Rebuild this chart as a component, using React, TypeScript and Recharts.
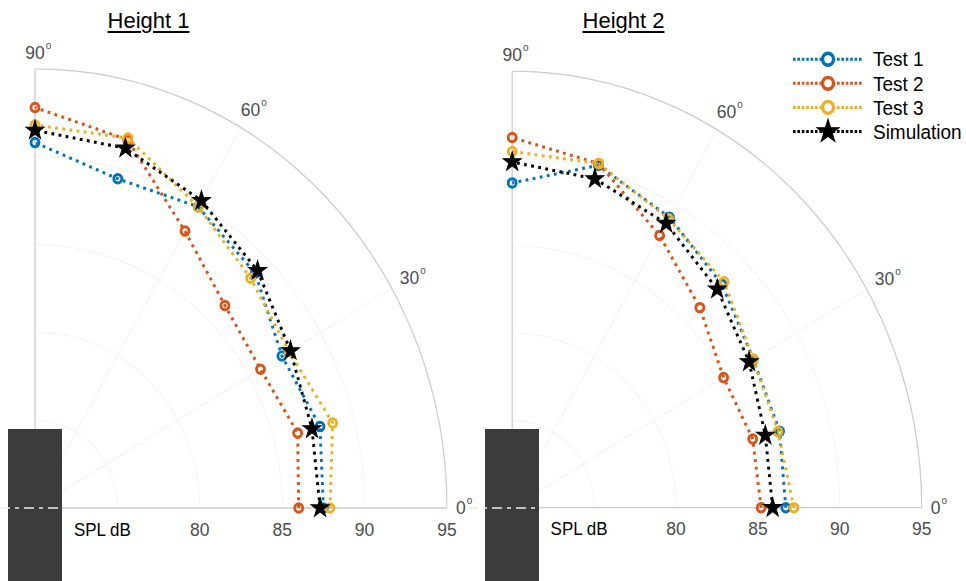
import {
  Legend,
  PolarAngleAxis,
  PolarGrid,
  PolarRadiusAxis,
  Radar,
  RadarChart,
  Symbols,
} from "recharts";

// measurement angles (deg) and SPL readings (dB)
const angles = [0, 15, 30, 45, 60, 75, 90];

const h1Test1 = [87.5, 87.9, 87.3, 88.9, 89.8, 89.4, 90.8];
const h1Test2 = [86.0, 86.5, 85.8, 86.3, 88.2, 91.7, 92.8];
const h1Test3 = [87.9, 88.7, 87.8, 88.5, 89.8, 91.8, 91.8];
const h1Sim = [87.3, 87.4, 87.9, 89.1, 90.2, 91.2, 91.5];

const h2Test1 = [86.7, 86.9, 87.0, 88.1, 89.2, 90.3, 88.6];
const h2Test2 = [85.2, 85.2, 84.9, 86.2, 88.0, 90.4, 91.2];
const h2Test3 = [87.2, 86.8, 87.0, 88.3, 89.1, 90.4, 90.4];
const h2Sim = [85.9, 86.0, 86.7, 87.7, 88.8, 89.5, 89.8];

const radiusTicks = [75, 80, 85, 90, 95];
const angleTicks = [0, 30, 60, 90];

const series = [
  { key: "test1", name: "Test 1", color: "#0072BD", marker: "ring" },
  { key: "test2", name: "Test 2", color: "#D95319", marker: "ring" },
  { key: "test3", name: "Test 3", color: "#EDB120", marker: "ring" },
  { key: "sim", name: "Simulation", color: "#000000", marker: "star" },
];

function buildRows(t1: number[], t2: number[], t3: number[], sim: number[]) {
  return angles.map((angle, i) => ({ angle, test1: t1[i], test2: t2[i], test3: t3[i], sim: sim[i] }));
}

const rows1 = buildRows(h1Test1, h1Test2, h1Test3, h1Sim);
const rows2 = buildRows(h2Test1, h2Test2, h2Test3, h2Sim);

const FONT = "'Liberation Sans', Arial, Helvetica, sans-serif";
const GREY = "#4d4d4d";
const AXIS = "#cccccc";
const TICK_FS = 17.5;
const STRETCH = 1.066;
const DASH = "2.8 4.4";

// open dotted polyline through the radar points (no closing segment)
const openLine = (color: string) => (props: any) => {
  const pts: any[] = props.points ?? [];
  const d = pts.map((p, i) => `${i ? "L" : "M"}${p.x},${p.y}`).join(" ");
  return <path d={d} fill="none" stroke={color} strokeWidth={2.9} strokeDasharray={DASH} />;
};

const ringDot = (color: string) => (p: any) => (
  <circle key={`r-${p.index}`} cx={p.cx} cy={p.cy} r={4} fill="none" stroke={color} strokeWidth={2.8} />
);

const starDot = (p: any) => (
  <Symbols key={`s-${p.index}`} cx={p.cx} cy={p.cy} type="star" size={100} fill="#000" stroke="#000" />
);

function AngleTick(props: any) {
  const { x, y, payload } = props;
  const a = (payload.value * Math.PI) / 180;
  const label = String(payload.value);
  const halfW = (label.length * 0.556 * TICK_FS) / 2;
  const extra = 1 + halfW * Math.abs(Math.cos(a)) + 6 * Math.abs(Math.sin(a));
  const tx = x + extra * Math.cos(a);
  const ty = y - extra * Math.sin(a);
  return (
    <g>
      <text x={tx} y={ty} textAnchor="middle" dominantBaseline="central" fontSize={TICK_FS} fill={GREY}>
        {label}
      </text>
      <text x={tx + halfW + 1} y={ty - 7} dominantBaseline="central" fontSize={10} fill={GREY}>
        o
      </text>
    </g>
  );
}

function RadiusTick(props: any) {
  const { x, y, payload } = props;
  if (payload.value === 75) {
    return (
      <text x={x - 15} y={y + 26} textAnchor="middle" fontSize={17} fill="#000">
        SPL dB
      </text>
    );
  }
  return (
    <text x={x} y={y + 26} textAnchor="middle" fontSize={TICK_FS} fill={GREY}>
      {payload.value}
    </text>
  );
}

function LegendContent(props: any) {
  const given: any[] = props.payload ?? [];
  const items = series
    .map((s) => ({ s, item: given.find((g) => g.dataKey === s.key) }))
    .filter((d) => d.item);
  return (
    <svg width={180} height={100} style={{ display: "block", overflow: "visible" }}>
      {items.map(({ s, item }, i) => {
        const y = 11 + i * 22.6;
        return (
          <g key={s.key}>
            <line x1={0} x2={70} y1={y} y2={y} stroke={s.color} strokeWidth={2.8} strokeDasharray="2.6 1.8" />
            {s.marker === "star" ? (
              <Symbols cx={35} cy={y} type="star" size={150} fill="#000" stroke="#000" />
            ) : (
              <circle cx={35} cy={y} r={5.5} fill="#fff" stroke={s.color} strokeWidth={3.4} />
            )}
            <text x={80} y={y} dominantBaseline="central" fontSize={19} fill="#000">
              {item.value}
            </text>
          </g>
        );
      })}
    </svg>
  );
}

type PanelProps = {
  rows: any[];
  left: number;
  width: number;
  cx: number;
  cy: number;
  radius: number;
  legend?: boolean;
};

function PolarPanel({ rows, left, width, cx, cy, radius, legend }: PanelProps) {
  return (
    <div
      style={{
        position: "absolute",
        left,
        top: 0,
        width,
        height: 560,
        transform: `scaleY(${STRETCH})`,
        transformOrigin: `${cx}px ${cy}px`,
      }}
    >
      <RadarChart
        width={width}
        height={560}
        data={rows}
        cx={cx}
        cy={cy}
        innerRadius={0}
        outerRadius={radius}
        startAngle={0}
        endAngle={90}
        margin={{ top: 0, right: 0, bottom: 0, left: 0 }}
      >
        <PolarGrid gridType="circle" stroke="#f4f4f4" />
        <PolarGrid gridType="circle" polarAngles={[0, 90]} polarRadius={[]} stroke={AXIS} strokeWidth={1.2} />
        <PolarAngleAxis
          dataKey="angle"
          type="number"
          domain={[0, 90]}
          ticks={angleTicks}
          axisLineType="circle"
          axisLine={{ stroke: AXIS, strokeWidth: 1.2 }}
          tickLine={false}
          tick={AngleTick}
        />
        <PolarRadiusAxis
          angle={0}
          type="number"
          domain={[70, 95]}
          ticks={radiusTicks}
          axisLine={false}
          tickLine={false}
          tick={RadiusTick}
        />
        {series.map((s) => (
          <Radar
            key={s.key}
            dataKey={s.key}
            name={s.name}
            stroke={s.color}
            fill="none"
            fillOpacity={0}
            shape={openLine(s.color)}
            dot={s.marker === "star" ? starDot : ringDot(s.color)}
            isAnimationActive={false}
          />
        ))}
        {legend && (
          <Legend
            content={LegendContent}
            wrapperStyle={{ left: 315, top: 76, width: 180, height: 100 }}
          />
        )}
      </RadarChart>
    </div>
  );
}

function Speaker({ left, lineLeft, y }: { left: number; lineLeft: number; y: number }) {
  return (
    <>
      <div style={{ position: "absolute", left, top: 429, width: 54, height: 152, background: "#3c3c3c" }} />
      <svg
        width={left + 54 - lineLeft}
        height={4}
        style={{ position: "absolute", left: lineLeft, top: y - 2 }}
      >
        <line x1={0} x2={left + 54 - lineLeft} y1={2} y2={2} stroke="#ececec" strokeWidth={1.5} strokeDasharray="10 5 4 5" />
      </svg>
    </>
  );
}

function Title({ text, center }: { text: string; center: number }) {
  return (
    <div
      style={{
        position: "absolute",
        left: center - 70,
        top: 10,
        width: 140,
        textAlign: "center",
        fontSize: 22,
        lineHeight: "22px",
        textDecoration: "underline",
        textUnderlineOffset: 3,
        color: "#000",
      }}
    >
      {text}
    </div>
  );
}

export default function App() {
  return (
    <div
      style={{
        position: "absolute",
        left: 0,
        top: 0,
        width: 966,
        height: 581,
        overflow: "hidden",
        background: "#fff",
        fontFamily: FONT,
      }}
    >
      <style>{`.recharts-polar-grid-concentric-circle, .recharts-polar-angle-axis-line { clip-path: inset(0 0 50% 50%); }`}</style>
      <PolarPanel rows={rows1} left={0} width={478} cx={35} cy={508} radius={412} />
      <PolarPanel rows={rows2} left={478} width={488} cx={34.2} cy={507.7} radius={409.5} legend />
      <Speaker left={8} lineLeft={0} y={508} />
      <Speaker left={485} lineLeft={468} y={508} />
      <Title text="Height 1" center={148.5} />
      <Title text="Height 2" center={623.5} />
    </div>
  );
}
